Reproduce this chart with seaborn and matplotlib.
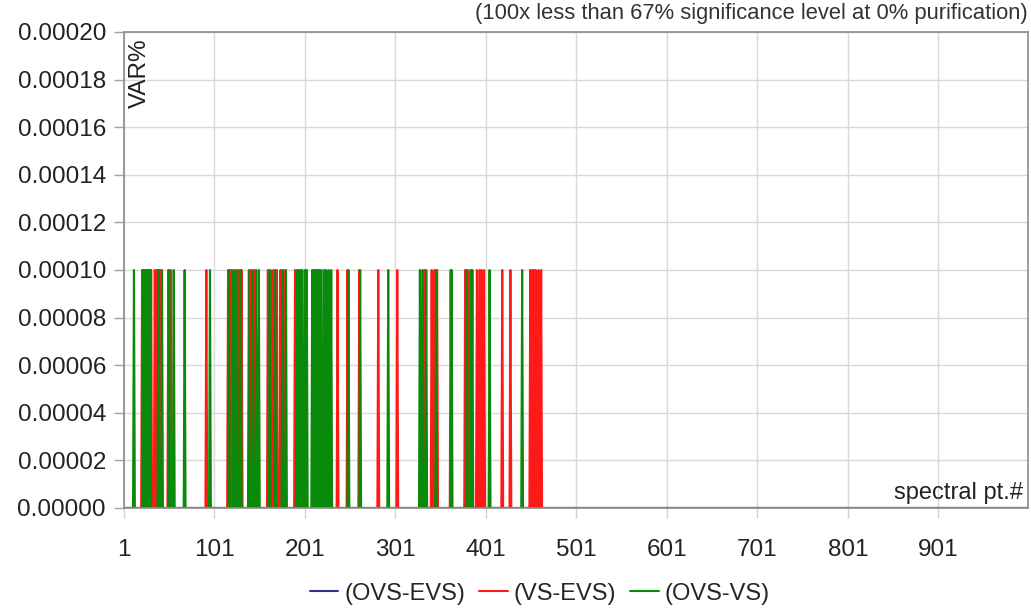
import numpy as np
import pandas as pd
import matplotlib
matplotlib.use("Agg")
import matplotlib.pyplot as plt
import seaborn as sns
from matplotlib.lines import Line2D

# ---------------- data ----------------
n_points = 1000
spike_level = 0.0001
series_names = ["(OVS-EVS)", "(VS-EVS)", "(OVS-VS)"]
series_colors = ["#2e3192", "#ff1a1a", "#0a8a0a"]

# spectral points where each series reaches the spike level
ovs_evs_spikes = []
vs_evs_spikes = [21, 23, 25, 27, 29, 31, 35, 37, 38, 40, 42, 50, 53, 92,
                 116, 118, 120, 124, 128, 131, 141, 145, 160, 163, 166, 170,
                 174, 178, 190, 212, 216, 237, 248, 261, 282, 303, 333, 341,
                 344, 347, 362, 378, 381, 384, 386, 391, 394, 396, 399, 419,
                 428, 450, 452, 454, 456, 459, 462]
ovs_vs_spikes = [12, 22, 24, 26, 28, 30, 39, 43, 51, 56, 68, 96, 117, 122,
                 126, 130, 139, 143, 147, 150, 162, 168, 176, 180, 192, 194,
                 196, 198, 201, 203, 209, 211, 213, 215, 217, 219, 222, 224,
                 227, 230, 249, 262, 293, 328, 331, 335, 346, 363, 380, 385,
                 405, 441]

x_ticks = [1, 101, 201, 301, 401, 501, 601, 701, 801, 901]
y_ticks = [0.0, 0.00002, 0.00004, 0.00006, 0.00008, 0.00010,
           0.00012, 0.00014, 0.00016, 0.00018, 0.00020]

title_text = "(100x less than 67% significance level at 0% purification)"
y_label = "VAR%"
x_label = "spectral pt.#"

# ---------------- build long-form table ----------------
pts = np.arange(1, n_points + 1)
frames = []
for name, spikes in zip(series_names, [ovs_evs_spikes, vs_evs_spikes, ovs_vs_spikes]):
    vals = np.zeros(n_points)
    for s in spikes:
        vals[s - 1] = spike_level
    frames.append(pd.DataFrame({"pt": pts, "value": vals, "series": name}))
df = pd.concat(frames, ignore_index=True)

# ---------------- plot ----------------
sns.set_theme(style="white")
plt.rcParams["font.family"] = ["Liberation Sans", "DejaVu Sans"]

fig = plt.figure(figsize=(10.31, 6.15), dpi=100)
ax = fig.add_axes([124 / 1031, 1 - 508 / 615, (1028 - 124) / 1031, (508 - 32) / 615])

sns.lineplot(data=df, x="pt", y="value", hue="series", hue_order=series_names,
             palette=dict(zip(series_names, series_colors)), linewidth=1.5,
             legend=False, ax=ax, estimator=None, sort=False)

ax.set_xlim(1, n_points)
ax.set_ylim(0, 0.0002)
ax.set_xticks(x_ticks)
ax.set_xticklabels([str(t) for t in x_ticks])
ax.set_yticks(y_ticks)
ax.set_yticklabels([f"{t:.5f}" for t in y_ticks])
ax.set_xlabel("")
ax.set_ylabel("")

ax.grid(True, color="#d9d9d9", linewidth=1.0)
ax.set_axisbelow(True)
for side in ["left", "top", "right", "bottom"]:
    ax.spines[side].set_color("#8c8c8c")
    ax.spines[side].set_linewidth(1.2)

ax.tick_params(axis="y", which="major", length=7, width=1, color="#a0a0a0",
               labelsize=17.5, labelcolor="#222222", pad=6, left=True)
ax.tick_params(axis="x", which="major", length=7, width=1, color="#d0d0d0",
               labelsize=17.5, labelcolor="#222222", pad=15, bottom=True)

ax.text(0.005, 0.987, y_label, transform=ax.transAxes, rotation=90,
        ha="left", va="top", fontsize=17.5, color="#222222")
ax.text(0.995, 0.008, x_label, transform=ax.transAxes,
        ha="right", va="bottom", fontsize=17, color="#222222")
fig.text(1028 / 1031, 1 - 13 / 615, title_text, ha="right", va="center",
         fontsize=15.8, color="#333333")

handles = [Line2D([0], [0], color=c, linewidth=1.5) for c in series_colors]
ax.legend(handles, series_names, loc="center", bbox_to_anchor=(0.46, -0.18),
          ncol=3, frameon=False, fontsize=17, handlelength=1.2,
          handletextpad=0.25, columnspacing=0.6)

fig.savefig("out.png", dpi=100)
